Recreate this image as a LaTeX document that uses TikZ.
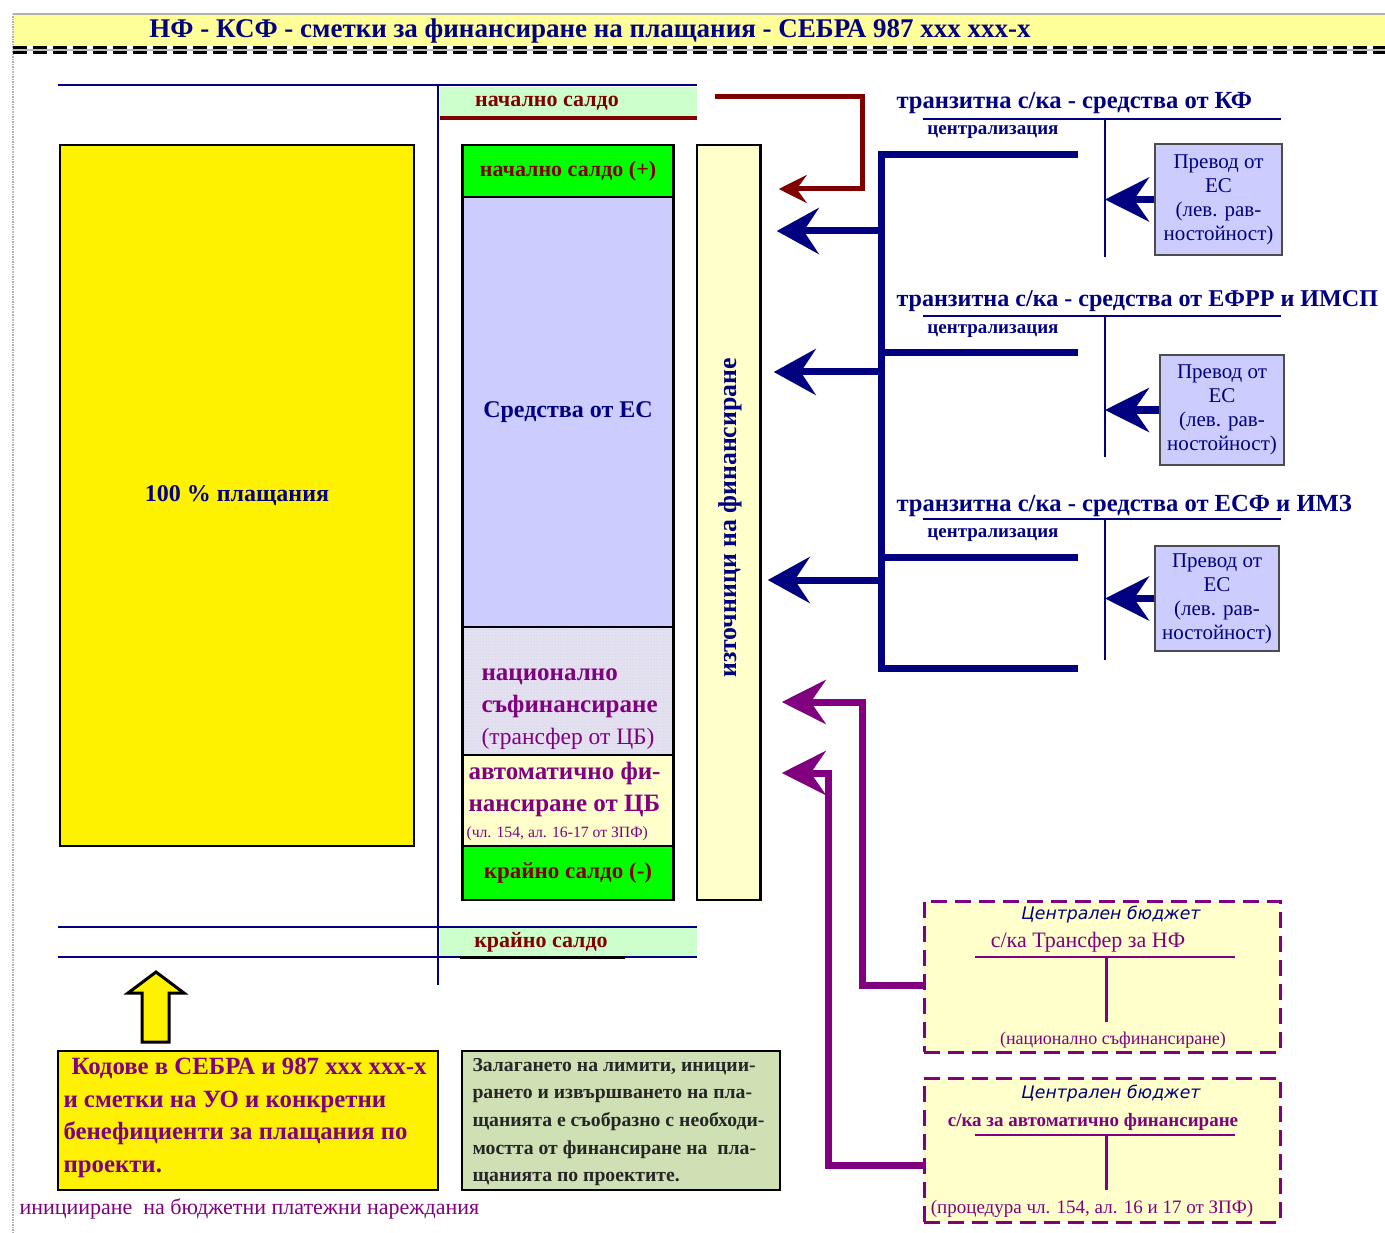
\documentclass[tikz,border=0pt]{standalone}
\usepackage{fontspec}
\setmainfont{Liberation Serif}
\newfontfamily\budgetfont{DejaVu Sans}
\usetikzlibrary{arrows.meta,positioning,patterns}

\definecolor{navy}{HTML}{000080}
\definecolor{darkred}{HTML}{800000}
\definecolor{purp}{HTML}{800080}
\definecolor{mint}{HTML}{CCFFCC}
\definecolor{brightgreen}{HTML}{00FF00}
\definecolor{lavender}{HTML}{CCCCFF}
\definecolor{cream}{HTML}{FFFFCC}
\definecolor{paleyellow}{HTML}{FFFF99}
\definecolor{natl}{HTML}{E4E2F2}
\definecolor{sage}{HTML}{CFE0B4}

\newcommand\fs[2]{\fontsize{#1}{#2}\selectfont}

\tikzset{
  cell/.style={draw=black, line width=1.2pt, minimum width=210pt, inner sep=0pt},
  acct/.style={navy, line width=2.5pt},
  transit/.style={anchor=west, text=navy, font=\fs{24.6}{28}\bfseries},
  central/.style={text=navy, font=\fs{19}{20}\bfseries},
  eubox/.style={draw=black!70, line width=1.5pt, fill=lavender, text=navy, font=\fs{21}{24}, align=center, inner sep=0pt},
  budget/.style={draw=purp, line width=3pt, dash pattern=on 16pt off 8pt, fill=cream, inner sep=0pt, minimum width=356pt},
  budgethead/.style={text=navy, font=\budgetfont\itshape\fs{17.3}{20}},
  redtip/.style={-{Stealth[length=28pt,width=28pt,inset=10pt]}},
  bigtip/.style={-{Stealth[length=42pt,width=46pt,inset=15pt]}},
  smalltip/.style={-{Stealth[length=44pt,width=44pt,inset=15pt]}},
}

\begin{document}
\begin{tikzpicture}[x=1pt,y=-1pt]
\useasboundingbox (0,0) rectangle (1385,1233);
% title band
\fill[paleyellow] (13,15) rectangle (1385,45);
\draw[gray!60, line width=1.5pt] (1385,14) -- (13,14);
\draw[gray!60, line width=1.5pt, densely dotted] (13,14) -- (13,1233);
\draw[gray!50, line width=2pt] (13,50.5) -- (1385,50.5);
\draw[black, line width=3pt, dash pattern=on 14pt off 6pt] (13,48) -- (1385,48);
\draw[black, line width=3pt, dash pattern=on 14pt off 6pt] (13,53) -- (1385,53);
\node[text=navy, font=\fs{27}{30}\bfseries] (title) at (590,31) {НФ - КСФ - сметки за финансиране на плащания - СЕБРА 987 xxx xxx-x};

% account lines
\node[fill=mint, minimum width=257pt, minimum height=29pt, inner sep=0pt] (saldotop) at (568.5,101.5) {};
\node[text=darkred, font=\fs{22}{24}\bfseries] (saldotoptxt) at (547,103) {начално салдо};
\draw[darkred, line width=3.5pt] ([yshift=-2pt]saldotop.south west) -- ([yshift=-2pt]saldotop.south east);
\node[fill=mint, minimum width=257pt, minimum height=28pt, inner sep=0pt] (saldobot) at (568.5,942) {};
\node[text=darkred, font=\fs{22}{24}\bfseries] (saldobottxt) at (541,942) {крайно салдо};
\draw[acct] (58,85) -- (697,85);
\draw[acct] (438,85) -- (438,985);
\draw[acct] (58,927) -- (697,927);
\draw[acct] (58,957) -- (697,957);
\draw[black, line width=3pt] (460,957) -- (625,957);

% payments
\node[draw=black, line width=1.5pt, fill=yellow, minimum width=354pt, minimum height=701pt, text=navy, font=\fs{24}{28}\bfseries] (pay) at (237,495.5) {100 \% плащания};

% column of funds
\node[cell, fill=brightgreen, minimum height=52pt, text=darkred, font=\fs{22}{24}\bfseries] (openbal) at (568,171) {начално салдо (+)};
\node[cell, fill=lavender, minimum height=430pt, text=navy, font=\fs{24}{28}\bfseries] (eufunds) at (568,412) {Средства от ЕС};
\node[cell, fill=natl, minimum height=128pt] (cofin) at (568,691) {};
\fill[pattern=dots, pattern color=gray!45] (464,628) rectangle (672,754);
\node[anchor=west, align=left, text=purp, font=\fs{25}{32}] (cofintxt) at (478,709) {{\bfseries национално}\\{\bfseries съфинансиране}\\{\fs{23.5}{32}(трансфер от ЦБ)}};
\node[cell, fill=cream, minimum height=91pt] (autofin) at (568,800.5) {};
\node[anchor=west, align=left, text=purp, font=\fs{25}{32}\bfseries] (autofintxt) at (465,789) {автоматично фи-\\нансиране от ЦБ};
\node[anchor=west, text=purp, font=\fs{15.7}{18}] (autofinref) at (463,834) {(чл. 154, ал. 16-17 от ЗПФ)};
\node[cell, fill=brightgreen, minimum height=54pt, text=darkred, font=\fs{23}{26}\bfseries] (closebal) at (568,873) {\raisebox{-3pt}{крайно салдо (-)}};
\draw[line width=3pt] (openbal.north west) -- (closebal.south west);
\draw[line width=3pt] (openbal.north east) -- (closebal.south east);

% sources
\node[draw=black, line width=1.5pt, fill=cream, minimum width=63pt, minimum height=755pt, inner sep=0pt] (src) at (728.5,522.5) {};
\draw[line width=3pt] (src.north east) -- (src.south east);
\node[rotate=90, text=navy, font=\fs{25.8}{28}\bfseries] (srctxt) at (730,518) {източници на финансиране};

% opening balance arrow
\coordinate (redtop) at (862,97);
\coordinate (redbot) at (862,189);
\draw[darkred, line width=5pt, redtip] ([xshift=18pt]saldotop.east |- redtop) -- (redtop) -- (redbot) -- ([xshift=18pt]src.east |- redbot);

% centralisation bracket
\coordinate (brtop) at (881,155);
\coordinate (brbot) at (881,668);
\draw[navy, line width=7pt] (1078,155) -- (brtop) -- (brbot) -- (1078,668);
\draw[navy, line width=7pt] (881,353) -- (1078,353);
\draw[navy, line width=7pt] (881,557) -- (1078,557);
\coordinate (inKF) at (881,231);
\coordinate (inERDF) at (881,372);
\coordinate (inESF) at (881,580);
\draw[navy, line width=7pt, bigtip, shorten >=16pt] (inKF) -- (inKF -| src.east);
\draw[navy, line width=7pt, bigtip, shorten >=13pt] (inERDF) -- (inERDF -| src.east);
\draw[navy, line width=7pt, bigtip, shorten >=7pt] (inESF) -- (inESF -| src.east);

% transit accounts
\node[transit] (kf) at (893,103) {транзитна с/ка - средства от КФ};
\coordinate (kfT) at (1105,119);
\draw[navy, line width=2.5pt] (923,119) -- (1281,119);
\draw[navy, line width=2.5pt] (kfT) -- (1105,257);
\node[central] (kfcen) at (993,132) {централизация};
\node[eubox, minimum width=127pt, minimum height=111pt] (kfbox) at (1218.5,199.5) {Превод от\\ЕС\\(лев. рав-\\ностойност)};
\draw[navy, line width=7pt, smalltip] (kfbox.west) -- (kfbox.west -| kfT);

\node[transit, font=\fs{24.1}{28}\bfseries] (erdf) at (893,301) {транзитна с/ка - средства от ЕФРР и ИМСП};
\coordinate (erdfT) at (1105,316);
\draw[navy, line width=2.5pt] (923,316) -- (1281,316);
\draw[navy, line width=2.5pt] (erdfT) -- (1105,457);
\node[central] (erdfcen) at (993,331) {централизация};
\node[eubox, minimum width=124pt, minimum height=110pt] (erdfbox) at (1222,410) {Превод от\\ЕС\\(лев. рав-\\ностойност)};
\draw[navy, line width=7pt, smalltip] (erdfbox.west) -- (erdfbox.west -| erdfT);

\node[transit] (esf) at (893,506) {транзитна с/ка - средства от ЕСФ и ИМЗ};
\coordinate (esfT) at (1105,519);
\draw[navy, line width=2.5pt] (923,519) -- (1281,519);
\draw[navy, line width=2.5pt] (esfT) -- (1105,660);
\node[central] (esfcen) at (993,535) {централизация};
\node[eubox, minimum width=124pt, minimum height=105pt] (esfbox) at (1217,598.5) {Превод от\\ЕС\\(лев. рав-\\ностойност)};
\draw[navy, line width=7pt, smalltip] (esfbox.west) -- (esfbox.west -| esfT);

% central budget
\node[budget, minimum height=151pt] (cb1) at (1102,976.5) {};
\node[budgethead] (cb1head) at (1111,915) {Централен бюджет};
\node[text=purp, font=\fs{22}{24}] (cb1acc) at (1088,942) {с/ка Трансфер за НФ};
\draw[purp, line width=1.5pt] (975,957) -- (1235,957);
\draw[purp, line width=3pt] (1106,957) -- (1106,1022);
\node[text=purp, font=\fs{18}{20}] (cb1note) at (1113,1040) {(национално съфинансиране)};

\node[budget, minimum height=144pt] (cb2) at (1102,1150) {};
\node[budgethead] (cb2head) at (1111,1094) {Централен бюджет};
\node[text=purp, font=\fs{19}{22}\bfseries] (cb2acc) at (1093,1122) {с/ка за автоматично финансиране};
\draw[purp, line width=1.5pt] (975,1135) -- (1235,1135);
\draw[purp, line width=3pt] (1106,1135) -- (1106,1190);
\node[text=purp, font=\fs{19}{22}] (cb2note) at (1092,1209) {(процедура чл. 154, ал. 16 и 17 от ЗПФ)};

\coordinate (p1out) at (862,985);
\coordinate (p1in) at (862,702);
\coordinate (p2out) at (828,1165);
\coordinate (p2in) at (828,773);
\draw[purp, line width=7pt, smalltip] (cb1.west |- p1out) -- (p1out) -- (p1in) -- ([xshift=21pt]src.east |- p1in);
\draw[purp, line width=7pt, smalltip] (cb2.west |- p2out) -- (p2out) -- (p2in) -- ([xshift=21pt]src.east |- p2in);

% payment orders
\draw[black, line width=3pt, fill=yellow] (142,1042) -- (142,993) -- (128,993) -- (156,972) -- (184,993) -- (169,993) -- (169,1042) -- cycle;
\node[draw=black, line width=2pt, fill=yellow, minimum width=380pt, minimum height=139pt, inner sep=0pt] (codes) at (248,1120.5) {};
\node[anchor=west, align=left, text=purp, font=\fs{24.8}{32.5}\bfseries] (codestxt) at (60,1118) {\hspace{8pt}Кодове в СЕБРА и 987 xxx xxx-x\\и сметки на УО и конкретни\\бенефициенти за плащания по\\проекти.};
\node[draw=black, line width=2pt, fill=sage, minimum width=318pt, minimum height=139pt, inner sep=0pt] (limits) at (621,1120.5) {};
\node[anchor=west, align=left, text=black!85, font=\fs{19.7}{27.7}\bfseries] (limitstxt) at (469,1122) {Залагането на лимити, иниции-\\рането и извършването на пла-\\щанията е съобразно с необходи-\\мостта от финансиране на~ пла-\\щанията по проектите.};
\node[anchor=west, text=purp, font=\fs{22}{24}] (initpay) at (16,1209) {иницииране\ \ на бюджетни платежни нареждания};
\end{tikzpicture}
\end{document}
